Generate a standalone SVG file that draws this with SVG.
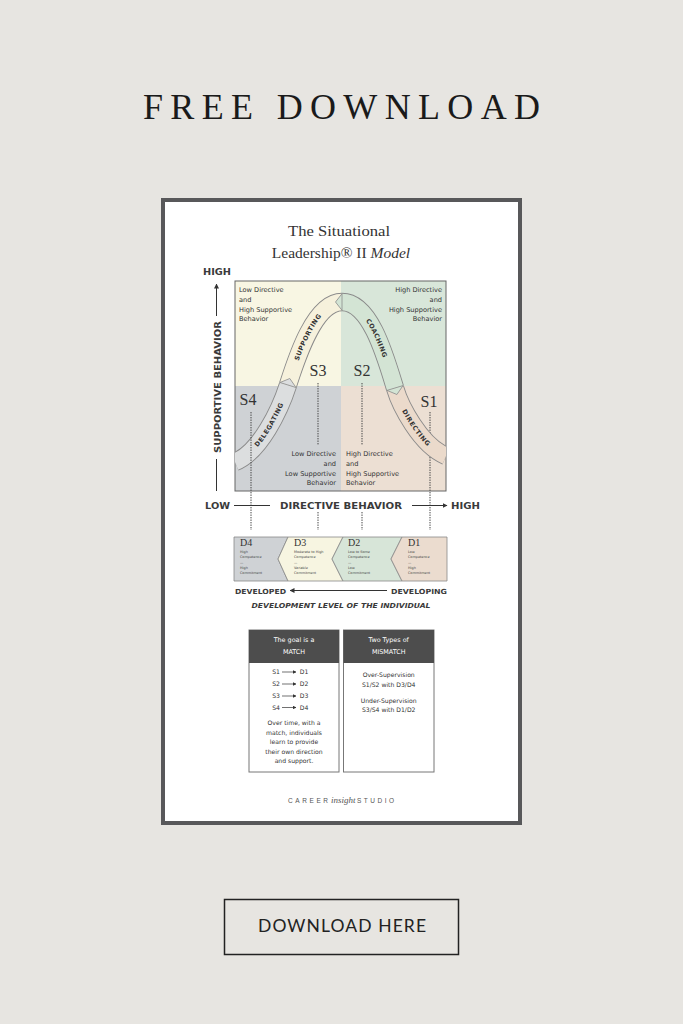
<svg xmlns="http://www.w3.org/2000/svg" xmlns:xlink="http://www.w3.org/1999/xlink" width="683" height="1024" viewBox="0 0 683 1024">
<style>
.sans{font-family:"DejaVu Sans","Liberation Sans",sans-serif;fill:#333}
.bold{font-family:"DejaVu Sans","Liberation Sans",sans-serif;font-weight:bold;fill:#3a3a3a}
.serif{font-family:"Liberation Serif","DejaVu Serif",serif;fill:#333}
.q{font-size:6.6px}
.tiny{font-family:"DejaVu Sans",sans-serif;font-size:3.4px;fill:#444}
.dl{font-family:"Liberation Serif",serif;font-size:10px;fill:#333}
.dash{stroke:#444;stroke-width:1;stroke-dasharray:1.4 1.1;fill:none}
.ax{stroke:#333;stroke-width:1;fill:none}
.bo{stroke:#8a8a8a;stroke-width:18.4;fill:none}
.bt{font-family:"DejaVu Sans",sans-serif;font-weight:bold;font-size:6.4px;fill:#333;letter-spacing:0.5px}
.box{fill:#fff;stroke:#777;stroke-width:1}
.hd{fill:#4d4d4d}
.ht{font-family:"DejaVu Sans",sans-serif;font-size:6.4px;fill:#fff;text-anchor:middle}
.bx{font-family:"DejaVu Sans",sans-serif;font-size:6.1px;fill:#333;text-anchor:middle}
.dp{stroke:#888;stroke-width:0.8}
</style>
<defs>
<marker id="arr" viewBox="0 0 10 10" refX="9" refY="5" markerWidth="5" markerHeight="5" orient="auto"><path d="M0,0 L10,5 L0,10 z" fill="#333"/></marker>
<clipPath id="gc"><rect x="235" y="281" width="211" height="210"/></clipPath>
<path id="pA" d="M235,462 C260,452 280,410 288,385"/>
<path id="pB" d="M288,385 C296,360 314,302 342,302"/>
<path id="pC" d="M342,302 C370,302 385,355 395,388"/>
<path id="pD" d="M395,388 C400,405 420,445 446,456"/>
</defs>
<rect width="683" height="1024" fill="#e7e5e1"/>
<text x="341.5" y="119" text-anchor="middle" font-family="Liberation Serif,serif" font-size="36" fill="#1a1a1a" textLength="397" lengthAdjust="spacing">FREE DOWNLOAD</text>
<rect x="163" y="200" width="357" height="623" fill="#fff" stroke="#58585a" stroke-width="4"/>
<g id="title">
<text x="339" y="236" text-anchor="middle" class="serif" font-size="15.5" textLength="102" lengthAdjust="spacingAndGlyphs">The Situational</text>
<text x="341" y="258" text-anchor="middle" class="serif" font-size="15.5">Leadership® II <tspan font-style="italic">Model</tspan></text>
</g>
<g id="grid">
<rect x="235" y="281" width="106" height="105" fill="#f8f6e3"/>
<rect x="341" y="281" width="105" height="105" fill="#d8e6d9"/>
<rect x="235" y="386" width="106" height="105" fill="#cfd2d5"/>
<rect x="341" y="386" width="105" height="105" fill="#ecdfd3"/>
<rect x="235" y="281" width="211" height="210" fill="none" stroke="#666" stroke-width="1"/>
</g>
<g id="quadrant-text" class="sans q">
<text x="239" y="292">Low Directive</text><text x="239" y="302">and</text><text x="239" y="311.5">High Supportive</text><text x="239" y="321">Behavior</text>
<g text-anchor="end"><text x="442" y="292">High Directive</text><text x="442" y="302">and</text><text x="442" y="311.5">High Supportive</text><text x="442" y="321">Behavior</text></g>
<g text-anchor="end"><text x="336" y="456">Low Directive</text><text x="336" y="466">and</text><text x="336" y="475.5">Low Supportive</text><text x="336" y="485">Behavior</text></g>
<text x="346" y="456">High Directive</text><text x="346" y="466">and</text><text x="346" y="475.5">High Supportive</text><text x="346" y="485">Behavior</text>
</g>
<g id="connectors">
<line class="dash" x1="430" y1="412" x2="430" y2="530"/>
<line class="dash" x1="318" y1="383" x2="318" y2="445"/>
<line class="dash" x1="362" y1="383" x2="362" y2="445"/>
<line class="dash" x1="318" y1="512" x2="318" y2="530"/>
<line class="dash" x1="362" y1="512" x2="362" y2="530"/>
</g>
<g id="band" clip-path="url(#gc)">
<use href="#pA" class="bo"/><use href="#pB" class="bo"/><use href="#pC" class="bo"/><use href="#pD" class="bo"/>
<use href="#pA" fill="none" stroke="#dcdedf" stroke-width="16.6"/>
<use href="#pB" fill="none" stroke="#f6f1dc" stroke-width="16.6"/>
<use href="#pC" fill="none" stroke="#d3e4d4" stroke-width="16.6"/>
<use href="#pD" fill="none" stroke="#ebdacb" stroke-width="16.6"/>
<polygon points="296,387.5 289.8,378.5 280,382.5" fill="#dcdedf" stroke="#8a8a8a" stroke-width="0.8"/>
<polygon points="342,310.3 335.5,302 342,293.7" fill="#d3e4d4" stroke="#8a8a8a" stroke-width="0.8"/>
<polygon points="403,385.6 396.9,394.5 387,390.4" fill="#d3e4d4" stroke="#8a8a8a" stroke-width="0.8"/>
<text class="bt" dy="2.3"><textPath href="#pA" startOffset="54%" text-anchor="middle">DELEGATING</textPath></text>
<text class="bt" dy="2.3"><textPath href="#pB" startOffset="50%" text-anchor="middle">SUPPORTING</textPath></text>
<text class="bt" dy="2.3"><textPath href="#pC" startOffset="50%" text-anchor="middle">COACHING</textPath></text>
<text class="bt" dy="2.3"><textPath href="#pD" startOffset="52%" text-anchor="middle">DIRECTING</textPath></text>
</g>
<line class="dash" x1="251" y1="412" x2="251" y2="530"/>
<g id="s-labels" class="serif" font-size="16" text-anchor="middle">
<text x="318" y="376">S3</text><text x="362" y="376">S2</text><text x="248" y="405">S4</text><text x="429" y="407">S1</text>
</g>
<g id="axes">
<text x="203" y="275" class="bold" font-size="9" textLength="28" lengthAdjust="spacingAndGlyphs">HIGH</text>
<line class="ax" x1="216.5" y1="316" x2="216.5" y2="284" marker-end="url(#arr)"/>
<text transform="translate(220.5,387) rotate(-90)" text-anchor="middle" class="bold" font-size="9" textLength="132" lengthAdjust="spacingAndGlyphs">SUPPORTIVE BEHAVIOR</text>
<line class="ax" x1="216.5" y1="459" x2="216.5" y2="491"/>
<text x="205" y="509" class="bold" font-size="9" textLength="25" lengthAdjust="spacingAndGlyphs">LOW</text>
<line class="ax" x1="234" y1="505.5" x2="270" y2="505.5"/>
<text x="280" y="509" class="bold" font-size="9" textLength="122" lengthAdjust="spacingAndGlyphs">DIRECTIVE BEHAVIOR</text>
<line class="ax" x1="412" y1="505.5" x2="447" y2="505.5" marker-end="url(#arr)"/>
<text x="451" y="509" class="bold" font-size="9" textLength="29" lengthAdjust="spacingAndGlyphs">HIGH</text>
</g>
<g id="dev-row">
<polygon class="dp" points="234,537 288,537 278,559 288,581 234,581" fill="#cfd2d5"/>
<polygon class="dp" points="288,537 343,537 332,559 343,581 288,581 278,559" fill="#f7f5e1"/>
<polygon class="dp" points="343,537 402,537 391,559 402,581 343,581 332,559" fill="#d7e5d8"/>
<polygon class="dp" points="402,537 447,537 447,581 402,581 391,559" fill="#ebdccf"/>
<text x="240" y="546" class="dl">D4</text><text x="294" y="546" class="dl">D3</text><text x="348" y="546" class="dl">D2</text><text x="408" y="546" class="dl">D1</text>
<g class="tiny">
<text x="240" y="552.5">High</text><text x="240" y="557.5">Competence</text><text x="240" y="563.5">—</text><text x="240" y="569">High</text><text x="240" y="574">Commitment</text>
<text x="294" y="552.5">Moderate to High</text><text x="294" y="557.5">Competence</text><text x="294" y="563.5">—</text><text x="294" y="569">Variable</text><text x="294" y="574">Commitment</text>
<text x="348" y="552.5">Low to Some</text><text x="348" y="557.5">Competence</text><text x="348" y="563.5">—</text><text x="348" y="569">Low</text><text x="348" y="574">Commitment</text>
<text x="408" y="552.5">Low</text><text x="408" y="557.5">Competence</text><text x="408" y="563.5">—</text><text x="408" y="569">High</text><text x="408" y="574">Commitment</text>
</g>
<text x="235" y="593.5" class="bold" font-size="7" textLength="51" lengthAdjust="spacingAndGlyphs">DEVELOPED</text>
<line class="ax" x1="387" y1="590.5" x2="290" y2="590.5" marker-end="url(#arr)"/>
<text x="391" y="593.5" class="bold" font-size="7" textLength="56" lengthAdjust="spacingAndGlyphs">DEVELOPING</text>
<text x="341" y="608" text-anchor="middle" class="bold" font-size="6.8" font-style="italic" textLength="179" lengthAdjust="spacingAndGlyphs">DEVELOPMENT LEVEL OF THE INDIVIDUAL</text>
</g>
<g id="match-box">
<rect class="box" x="249" y="630" width="90" height="142"/>
<rect class="hd" x="249" y="630" width="90" height="33"/>
<text class="ht" x="294" y="642">The goal is a</text><text class="ht" x="294" y="654">MATCH</text>
<g class="bx">
<text x="276" y="674">S1</text><text x="304" y="674">D1</text>
<text x="276" y="686">S2</text><text x="304" y="686">D2</text>
<text x="276" y="698">S3</text><text x="304" y="698">D3</text>
<text x="276" y="709.5">S4</text><text x="304" y="709.5">D4</text>
<text x="294" y="725">Over time, with a</text>
<text x="294" y="734.5">match, individuals</text>
<text x="294" y="744">learn to provide</text>
<text x="294" y="753.5">their own direction</text>
<text x="294" y="763">and support.</text>
</g>
<g stroke="#333" stroke-width="0.7">
<line x1="282" y1="672" x2="296" y2="672" marker-end="url(#arr)"/>
<line x1="282" y1="684" x2="296" y2="684" marker-end="url(#arr)"/>
<line x1="282" y1="696" x2="296" y2="696" marker-end="url(#arr)"/>
<line x1="282" y1="707.5" x2="296" y2="707.5" marker-end="url(#arr)"/>
</g>
</g>
<g id="mismatch-box">
<rect class="box" x="343.5" y="630" width="90.5" height="142"/>
<rect class="hd" x="343.5" y="630" width="90.5" height="33"/>
<text class="ht" x="388.7" y="642">Two Types of</text><text class="ht" x="388.7" y="654">MISMATCH</text>
<g class="bx">
<text x="388.7" y="677">Over-Supervision</text>
<text x="388.7" y="686.5">S1/S2 with D3/D4</text>
<text x="388.7" y="702.5">Under-Supervision</text>
<text x="388.7" y="712">S3/S4 with D1/D2</text>
</g>
</g>
<g id="footer">
<text x="288" y="803" font-family="Liberation Sans,sans-serif" font-size="6.5" fill="#555" textLength="40" lengthAdjust="spacing">CAREER</text>
<text x="331" y="803" font-family="Liberation Serif,serif" font-style="italic" font-size="9" fill="#555">insight</text>
<text x="357" y="803" font-family="Liberation Sans,sans-serif" font-size="6.5" fill="#555" textLength="37" lengthAdjust="spacing">STUDIO</text>
</g>
<g id="button">
<rect x="224.5" y="899.5" width="234" height="55" fill="none" stroke="#222" stroke-width="1.5"/>
<text x="342" y="932" text-anchor="middle" font-family="Lato,sans-serif" font-size="17.5" fill="#222" textLength="168" lengthAdjust="spacing">DOWNLOAD HERE</text>
</g>
</svg>
